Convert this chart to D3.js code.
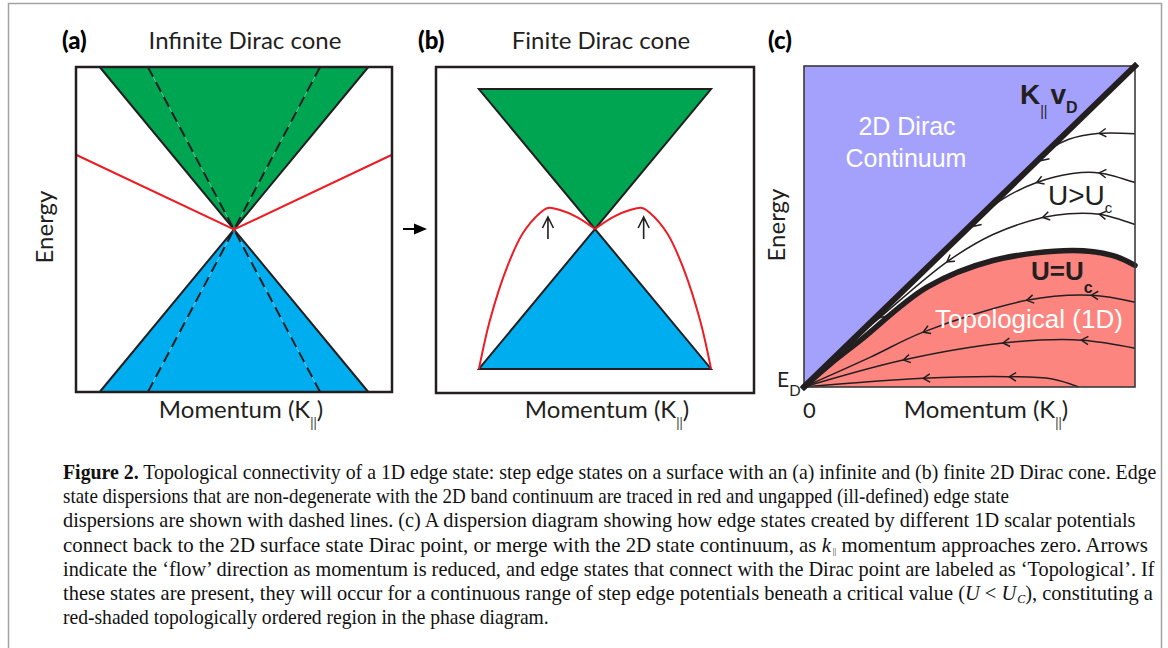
<!DOCTYPE html>
<html><head><meta charset="utf-8">
<script src="https://cdn.jsdelivr.net/npm/d3@7"></script>
<style>body{margin:0;background:#fff}svg{display:block}</style>
</head><body>
<svg id="fig" width="1168" height="648"></svg>
<script>
// ---------- data (momentum k, energy E) ----------
// (a) infinite Dirac cone, k and E in [-1, 1]
const coneAUpper = [[-0.85, 1], [0, 0], [0.85, 1]];
const coneALower = [[-0.85, -1], [0, 0], [0.85, -1]];
const dashedAUpper = [[-0.545, 1], [0, 0], [0.545, 1]];
const dashedALower = [[-0.545, -1], [0, 0], [0.545, -1]];
const edgeA = [[-1, 0.46], [0, 0], [1, 0.46]];

// (b) finite Dirac cone
const coneBUpper = [[-0.73, 0.864], [0, 0], [0.73, 0.864]];
const coneBLower = [[-0.73, -0.864], [0, 0], [0.73, -0.864]];
const edgeBLeft = [[-0.73, -0.864], [-0.66, -0.56], [-0.553, -0.235], [-0.453, -0.025],
                   [-0.346, 0.099], [-0.296, 0.130], [-0.22, 0.117], [-0.113, 0.074], [0, 0]];
const edgeBRight = [[0, 0], [0.113, 0.074], [0.22, 0.117], [0.296, 0.130], [0.346, 0.099],
                    [0.453, -0.025], [0.553, -0.235], [0.66, -0.56], [0.73, -0.864]];
const upArrowsB = [-0.296, 0.306];
const upArrowSpan = [-0.062, 0.074];

// (c) dispersion diagram, k and E in [0, 1]; diagonal is E = k vD
const diagonalC = [[0, 0], [1, 1]];
const criticalCurve = [[0, 0], [0.08, 0.072], [0.171, 0.146], [0.372, 0.311], [0.571, 0.394],
                       [0.811, 0.425], [0.931, 0.410], [1, 0.379]];
const topoCurve1 = [[0, 0], [0.201, 0.093], [0.36, 0.171], [0.673, 0.270], [0.868, 0.286], [1, 0.264]];
const topoCurve2 = [[0, 0], [0.30, 0.084], [0.601, 0.137], [0.838, 0.146], [1, 0.121]];
const topoCurve3 = [[0, 0], [0.36, 0.027], [0.62, 0.032], [0.75, 0.025], [0.83, 0]];
const mergeCurve1 = [[0.62, 0.62], [0.70, 0.70], [0.75, 0.745], [0.80, 0.772], [0.886, 0.79], [1, 0.789]];
const mergeCurve2 = [[0.42, 0.42], [0.511, 0.511], [0.60, 0.585], [0.703, 0.637], [0.811, 0.665], [0.892, 0.667], [1, 0.637]];
const mergeCurve3 = [[0.10, 0.10], [0.15, 0.148], [0.222, 0.21], [0.432, 0.39], [0.571, 0.475],
                     [0.721, 0.528], [0.80, 0.54], [0.892, 0.538], [1, 0.506]];
const topoArrowK = [[0.36, 0.673, 0.868], [0.30, 0.601, 0.838], [0.36, 0.62]];
const mergeArrowK = [[0.892], [0.703, 0.892], [0.432, 0.721, 0.892]];
const diagonalArrowK = [0.712, 0.507, 0.222];

// caption lines: [text, style] runs
const captionLines = [
  [["Figure 2.", "b"], [" Topological connectivity of a 1D edge state: step edge states on a surface with an (a) infinite and (b) finite 2D Dirac cone. Edge", ""]],
  [["state dispersions that are non-degenerate with the 2D band continuum are traced in red and ungapped (ill-defined) edge state", ""]],
  [["dispersions are shown with dashed lines. (c) A dispersion diagram showing how edge states created by different 1D scalar potentials", ""]],
  [["connect back to the 2D surface state Dirac point, or merge with the 2D state continuum, as ", ""], ["k", "i"], ["||", "sub"], [" momentum approaches zero. Arrows", ""]],
  [["indicate the \u2018flow\u2019 direction as momentum is reduced, and edge states that connect with the Dirac point are labeled as \u2018Topological\u2019. If", ""]],
  [["these states are present, they will occur for a continuous range of step edge potentials beneath a critical value (", ""], ["U", "i"], [" < ", ""], ["U", "i"], ["C", "isub"], ["), constituting a", ""]],
  [["red-shaded topologically ordered region in the phase diagram.", ""]]
];
const captionWidths = [1094, 947, 1073, 1084, 1092, 1090, 486];

// ---------- styles ----------
const GREEN = "#00a551", CYAN = "#00aeef", RED = "#ed1c24";
const VIOLET = "#a4a1fd", SALMON = "#fd8580", INK = "#231f20";
const MY = "Lato, 'Open Sans', sans-serif";
const SANS = "'Liberation Sans', Arial, sans-serif";
const SERIF = "'Liberation Serif', 'Times New Roman', serif";

const svg = d3.select("#fig");
svg.append("rect").attr("width", 1168).attr("height", 648).attr("fill", "#fff");
svg.append("rect").attr("x", 8.5).attr("y", 3.5).attr("width", 1153).attr("height", 700)
  .attr("fill", "none").attr("stroke", "#a3a3a3").attr("stroke-width", 1.5);

function momentumLabel(g, cx, y) {
  const t = g.append("text").attr("x", cx).attr("y", y).attr("text-anchor", "middle")
    .attr("font-family", MY).attr("font-size", 24).attr("fill", INK);
  t.append("tspan").text("Momentum (K");
  t.append("tspan").attr("dy", 10).attr("font-size", 13).text("||");
  t.append("tspan").attr("dy", -10).text(")");
}
function energyLabel(g, x, cy) {
  g.append("text").attr("transform", `translate(${x},${cy}) rotate(-90)`).attr("text-anchor", "middle")
    .attr("font-family", MY).attr("font-size", 24).attr("fill", INK).text("Energy");
}
function panelTitle(g, tag, tx, title, cx) {
  g.append("text").attr("x", tx).attr("y", 49).attr("font-family", MY).attr("font-weight", 900)
    .attr("font-size", 24).attr("fill", "#000").text(tag);
  g.append("text").attr("x", cx).attr("y", 49).attr("text-anchor", "middle").attr("font-family", MY)
    .attr("font-size", 24).attr("fill", INK).text(title);
}

// ---------- panel (a) ----------
{
  const x = d3.scaleLinear([-1, 1], [76, 392]);
  const y = d3.scaleLinear([-1, 1], [392, 67]);
  const line = d3.line().x(d => x(d[0])).y(d => y(d[1]));
  const g = svg.append("g");
  g.append("path").attr("d", line(coneAUpper) + "Z").attr("fill", GREEN);
  g.append("path").attr("d", line(coneALower) + "Z").attr("fill", CYAN);
  [coneAUpper, coneALower].forEach(c => g.append("path").attr("d", line(c)).attr("fill", "none")
    .attr("stroke", INK).attr("stroke-width", 2));
  [dashedAUpper, dashedALower].forEach(c => {
    g.append("path").attr("d", line(c)).attr("fill", "none").attr("stroke", "rgba(255,255,255,0.45)").attr("stroke-width", 0.8);
    g.append("path").attr("d", line(c)).attr("fill", "none").attr("stroke", INK)
      .attr("stroke-width", 2).attr("stroke-dasharray", "11,6");
  });
  g.append("path").attr("d", line(edgeA)).attr("fill", "none").attr("stroke", RED).attr("stroke-width", 2);
  g.append("rect").attr("x", 76).attr("y", 67).attr("width", 316).attr("height", 325)
    .attr("fill", "none").attr("stroke", INK).attr("stroke-width", 2.5);
  panelTitle(g, "(a)", 62, "Infinite Dirac cone", 245);
  energyLabel(g, 53, 227);
  momentumLabel(g, 241, 418);
}

// ---------- panel (b) ----------
{
  const x = d3.scaleLinear([-1, 1], [436, 754]);
  const y = d3.scaleLinear([-1, 1], [391, 67]);
  const line = d3.line().x(d => x(d[0])).y(d => y(d[1]));
  const g = svg.append("g");
  g.append("path").attr("d", line(coneBUpper) + "Z").attr("fill", GREEN).attr("stroke", INK).attr("stroke-width", 2);
  g.append("path").attr("d", line(coneBLower) + "Z").attr("fill", CYAN).attr("stroke", INK).attr("stroke-width", 2);
  const curve = d3.line().x(d => x(d[0])).y(d => y(d[1])).curve(d3.curveCatmullRom.alpha(0.5));
  [edgeBLeft, edgeBRight].forEach(c => g.append("path").attr("d", curve(c)).attr("fill", "none")
    .attr("stroke", RED).attr("stroke-width", 2));
  upArrowsB.forEach(k => {
    const px = x(k), y0 = y(upArrowSpan[0]), y1 = y(upArrowSpan[1]);
    g.append("path").attr("d", `M${px},${y0}L${px},${y1}M${px - 5.5},${y1 + 11}L${px},${y1}L${px + 5.5},${y1 + 11}`)
      .attr("fill", "none").attr("stroke", INK).attr("stroke-width", 1.6);
  });
  g.append("rect").attr("x", 436).attr("y", 67).attr("width", 318).attr("height", 326)
    .attr("fill", "none").attr("stroke", INK).attr("stroke-width", 2.5);
  // arrow leading from (a) to (b)
  g.append("path").attr("d", "M403,229L416,229").attr("stroke", "#000").attr("stroke-width", 2);
  g.append("path").attr("d", "M414,223.5L427,229L414,234.5Z").attr("fill", "#000");
  panelTitle(g, "(b)", 418, "Finite Dirac cone", 601);
  momentumLabel(g, 607, 418);
}

// ---------- panel (c) ----------
{
  const x = d3.scaleLinear([0, 1], [804, 1135]);
  const y = d3.scaleLinear([0, 1], [387, 66]);
  const g = svg.append("g");
  const line = d3.line().x(d => x(d[0])).y(d => y(d[1]));
  const smooth = d3.line().x(d => x(d[0])).y(d => y(d[1])).curve(d3.curveCatmullRom.alpha(0.5));
  const area = d3.area().x(d => x(d[0])).y0(y(0)).y1(d => y(d[1])).curve(d3.curveCatmullRom.alpha(0.5));

  g.append("path").attr("d", line([[0, 0], [0, 1], [1, 1]]) + "Z").attr("fill", VIOLET);
  g.append("path").attr("d", area(criticalCurve)).attr("fill", SALMON);

  function chevron(px, py, dx, dy, len, ang) {
    const n = Math.hypot(dx, dy); dx /= n; dy /= n;
    const arm = s => {
      const c = Math.cos(s * ang), sn = Math.sin(s * ang);
      const rx = dx * c - dy * sn, ry = dx * sn + dy * c;
      return [px - rx * len, py - ry * len];
    };
    const a = arm(1), b = arm(-1);
    g.append("path").attr("d", `M${a[0]},${a[1]}L${px},${py}L${b[0]},${b[1]}`)
      .attr("fill", "none").attr("stroke", INK).attr("stroke-width", 1.5)
      .attr("stroke-linejoin", "miter");
  }
  function arrowsOn(node, ks) {
    const total = node.getTotalLength();
    ks.forEach(k => {
      const px = x(k);
      let lo = 0, hi = total;
      for (let i = 0; i < 40; i++) {
        const mid = (lo + hi) / 2;
        if (node.getPointAtLength(mid).x < px) lo = mid; else hi = mid;
      }
      const L = (lo + hi) / 2;
      const p = node.getPointAtLength(L), q = node.getPointAtLength(Math.max(0, L - 3));
      chevron(p.x, p.y, q.x - p.x, q.y - p.y, 8, 0.55);
    });
  }

  const thin = [topoCurve1, topoCurve2, topoCurve3, mergeCurve1, mergeCurve2, mergeCurve3];
  const thinArrows = [...topoArrowK, ...mergeArrowK];
  const nodes = thin.map(c => g.append("path").attr("d", smooth(c)).attr("fill", "none")
    .attr("stroke", INK).attr("stroke-width", 1.5).node());

  g.append("path").attr("d", smooth(criticalCurve)).attr("fill", "none").attr("stroke", INK)
    .attr("stroke-width", 5.5).attr("stroke-linecap", "round");
  g.append("rect").attr("x", 804).attr("y", 66).attr("width", 331).attr("height", 321)
    .attr("fill", "none").attr("stroke", "#3a3a3a").attr("stroke-width", 1.6);
  g.append("path").attr("d", line(diagonalC)).attr("fill", "none").attr("stroke", INK)
    .attr("stroke-width", 6).attr("stroke-linecap", "square");

  nodes.forEach((n, i) => arrowsOn(n, thinArrows[i]));
  diagonalArrowK.forEach(k => {
    const px = x(k) + 2, py = y(k) + 2;
    chevron(px, py, -(x(1) - x(0)), -(y(1) - y(0)), 8, 0.55);
  });

  // labels
  g.append("text").attr("x", 768).attr("y", 49).attr("font-family", MY).attr("font-weight", 900)
    .attr("font-size", 24).attr("fill", "#000").text("(c)");
  const white = [["2D Dirac", 907, 135], ["Continuum", 906, 167]];
  white.forEach(([s, cx, by]) => g.append("text").attr("x", cx).attr("y", by).attr("text-anchor", "middle")
    .attr("font-family", SANS).attr("font-size", 25).attr("fill", "#fff").text(s));
  g.append("text").attr("x", 935).attr("y", 328).attr("font-family", SANS).attr("font-size", 26)
    .attr("fill", "#fff").text("Topological (1D)");

  const kv = g.append("text").attr("x", 1020).attr("y", 104).attr("font-family", SANS)
    .attr("font-weight", 700).attr("font-size", 28).attr("fill", INK);
  kv.append("tspan").text("K");
  kv.append("tspan").attr("dy", 12).attr("font-size", 14).attr("font-weight", 400).text("||");
  kv.append("tspan").attr("dy", -12).attr("dx", 3).text("v");
  kv.append("tspan").attr("dy", 9).attr("font-size", 16).text("D");

  const ug = g.append("text").attr("x", 1048).attr("y", 205).attr("font-family", SANS)
    .attr("font-size", 28).attr("fill", INK);
  ug.append("tspan").text("U>U");
  ug.append("tspan").attr("dy", 8).attr("font-size", 15).text("c");

  const ue = g.append("text").attr("x", 1031).attr("y", 280).attr("font-family", SANS)
    .attr("font-weight", 700).attr("font-size", 26).attr("fill", INK);
  ue.append("tspan").text("U=U");
  ue.append("tspan").attr("dy", 13).attr("font-size", 16).text("c");

  const ed = g.append("text").attr("x", 777).attr("y", 387).attr("font-family", MY)
    .attr("font-size", 21).attr("fill", INK);
  ed.append("tspan").text("E");
  ed.append("tspan").attr("dy", 9).attr("font-size", 15).text("D");
  g.append("text").attr("x", 803).attr("y", 418).attr("font-family", MY).attr("font-size", 22)
    .attr("fill", INK).text("0");
  energyLabel(g, 785, 225);
  momentumLabel(g, 986, 418);
}

// ---------- caption ----------
{
  const g = svg.append("g");
  captionLines.forEach((runs, i) => {
    const by = 479 + i * 24.2;
    const t = g.append("text").attr("x", 0).attr("y", 0).attr("font-family", SERIF)
      .attr("font-size", 22).attr("fill", "#111");
    runs.forEach(([s, st]) => {
      const ts = t.append("tspan").text(s);
      if (st === "b") ts.attr("font-weight", 700);
      if (st === "i") ts.attr("font-style", "italic");
      if (st === "sub") ts.attr("font-size", 9).attr("dy", 2).attr("dx", 2);
      if (st === "isub") ts.attr("font-size", 13).attr("font-style", "italic").attr("dy", 3).attr("dx", 1);
    });
    // undo subscript shifts on the run that follows
    t.selectAll("tspan").each(function (d, j) {
      if (j > 0 && runs[j - 1][1] === "sub") d3.select(this).attr("dy", -2);
      if (j > 0 && runs[j - 1][1] === "isub") d3.select(this).attr("dy", -3);
    });
    const w = t.node().getComputedTextLength();
    t.attr("transform", `translate(63,${by}) scale(${captionWidths[i] / w},1)`);
  });
}
</script>
</body></html>
